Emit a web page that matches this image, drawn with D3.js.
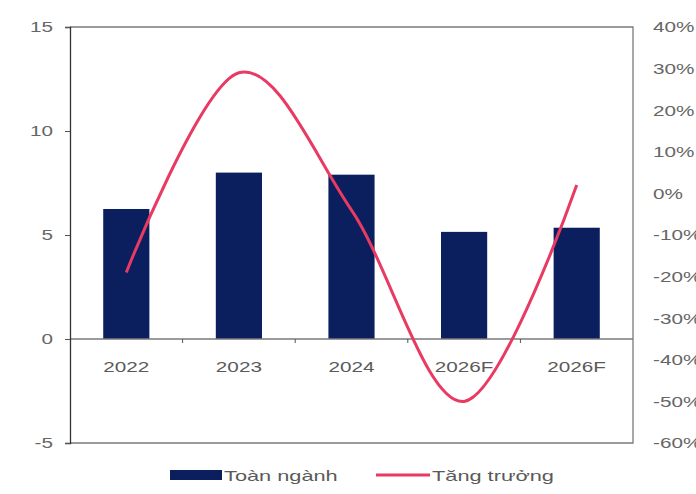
<!DOCTYPE html>
<html>
<head>
    <meta charset="utf-8">
    <script src="https://d3js.org/d3.v7.min.js"></script>
</head>
<style>
body { margin: 0; background: #fff; }
text { font-family: "Liberation Sans", Arial, sans-serif; }
</style>
<body>
<div id="chart"></div>
<script>
    // Chart data
    var years = ["2022", "2023", "2024", "2026F", "2026F"];
    var industry = [6.25, 8.0, 7.9, 5.15, 5.35];        // Toàn ngành (left axis)
    var growth = [-0.19, 0.29, -0.04, -0.50, 0.02];    // Tăng trưởng (right axis)
    var leftTicks = [-5, 0, 5, 10, 15];
    var rightTicks = [-0.6, -0.5, -0.4, -0.3, -0.2, -0.1, 0, 0.1, 0.2, 0.3, 0.4];

    var width = 696, height = 494;
    var margin = {top: 27, right: 63, bottom: 51, left: 70};
    var plotW = width - margin.left - margin.right,
        plotH = height - margin.top - margin.bottom;
    var fontSize = 15, stretch = 1.38;   // the original text looks wide

    var svg = d3.select("#chart").append("svg")
        .attr("width", width)
        .attr("height", height);

    var g = svg.append("g")
        .attr("transform", "translate(" + margin.left + "," + margin.top + ")");

    var x = d3.scaleBand().domain(d3.range(years.length)).range([0, plotW]).paddingInner(0.59).paddingOuter(0.295);
    var xc = d3.scaleBand().domain(d3.range(years.length)).range([0, plotW]);
    var y = d3.scaleLinear().domain([-5, 15]).range([plotH, 0]);
    var y2 = d3.scaleLinear().domain([-0.6, 0.4]).range([plotH, 0]);

    // widen text horizontally
    function widen(sel, k) {
        sel.each(function() {
            var w = this.getComputedTextLength();
            d3.select(this).attr("textLength", w * (k || stretch)).attr("lengthAdjust", "spacingAndGlyphs");
        });
    }

    // frame (top, right, bottom)
    g.append("path")
        .attr("d", "M0,0H" + plotW + "V" + plotH + "H0")
        .attr("fill", "none")
        .attr("stroke", "#7a7a7a")
        .attr("stroke-width", 1.3);

    // bars
    g.selectAll("rect.bar")
        .data(industry)
        .enter().append("rect")
        .attr("class", "bar")
        .attr("x", (d, i) => x(i))
        .attr("width", x.bandwidth())
        .attr("y", d => y(d))
        .attr("height", d => y(0) - y(d))
        .attr("fill", "#0b1f5e");

    // zero line with category ticks
    g.append("line")
        .attr("x1", 0).attr("x2", plotW)
        .attr("y1", y(0)).attr("y2", y(0))
        .attr("stroke", "#7a7a7a")
        .attr("stroke-width", 1.3);
    g.selectAll("line.ctick")
        .data(d3.range(1, years.length))
        .enter().append("line")
        .attr("class", "ctick")
        .attr("x1", d => xc(d)).attr("x2", d => xc(d))
        .attr("y1", y(0)).attr("y2", y(0) + 4)
        .attr("stroke", "#555");

    // category labels
    g.selectAll("text.cat")
        .data(years)
        .enter().append("text")
        .attr("class", "cat")
        .attr("x", (d, i) => xc(i) + xc.bandwidth() / 2)
        .attr("y", y(0) + 33)
        .attr("text-anchor", "middle")
        .attr("font-size", fontSize)
        .attr("fill", "#5a5a5a")
        .text(d => d)
        .call(widen);

    // left axis
    var leftAxis = g.append("g")
        .call(d3.axisLeft(y).tickValues(leftTicks).tickSize(5).tickPadding(12).tickFormat(d => String(d)));
    leftAxis.select(".domain").attr("stroke", "#333").attr("stroke-width", 1.3);
    leftAxis.selectAll(".tick line").attr("stroke", "#555");
    leftAxis.selectAll("text").attr("font-size", fontSize).attr("fill", "#666")
        .style("font-family", "Liberation Sans, Arial, sans-serif")
        .call(widen);

    // right axis labels (no line)
    var rightAxis = g.append("g")
        .attr("transform", "translate(" + plotW + ",0)")
        .call(d3.axisRight(y2).tickValues(rightTicks).tickSize(0).tickPadding(20)
            .tickFormat(d => Math.round(d * 100) + "%"));
    rightAxis.select(".domain").remove();
    rightAxis.selectAll("text").attr("font-size", fontSize).attr("fill", "#666")
        .style("font-family", "Liberation Sans, Arial, sans-serif")
        .call(widen);

    // growth line (smoothed)
    var line = d3.line()
        .x((d, i) => xc(i) + xc.bandwidth() / 2)
        .y(d => y2(d))
        .curve(d3.curveCardinal.tension(0));
    g.append("path")
        .datum(growth)
        .attr("d", line)
        .attr("fill", "none")
        .attr("stroke", "#e83a62")
        .attr("stroke-width", 3);

    // legend
    var lg = svg.append("g").attr("transform", "translate(170,475)");
    lg.append("rect").attr("x", 0).attr("y", -5).attr("width", 52).attr("height", 10).attr("fill", "#0b1f5e");
    lg.append("text").attr("x", 54).attr("y", 6).attr("font-size", fontSize).attr("fill", "#5a5a5a").text("Toàn ngành")
        .call(widen, 1.45);
    lg.append("line").attr("x1", 206).attr("x2", 260).attr("y1", 0).attr("y2", 0)
        .attr("stroke", "#e83a62").attr("stroke-width", 3);
    lg.append("text").attr("x", 262).attr("y", 6).attr("font-size", fontSize).attr("fill", "#5a5a5a").text("Tăng trưởng")
        .call(widen, 1.45);
</script>
</body>
</html>
